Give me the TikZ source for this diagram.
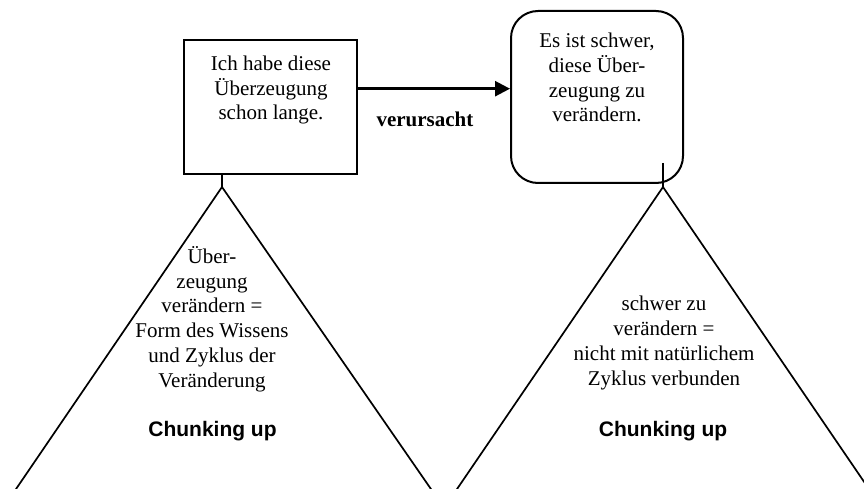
\documentclass[tikz,border=0pt]{standalone}
\usepackage{fontspec}
\setmainfont{Liberation Serif}
\newfontfamily\arialfont{Liberation Sans}
\usetikzlibrary{arrows.meta,calc}
\tikzset{
  ln/.style={line width=1.7pt, black},
  boxln/.style={line width=2pt, black},
  arrln/.style={line width=2.6pt, black, -{Triangle[length=15pt,width=15pt]}},
  boxtext/.style={font=\fontsize{21}{24.7}\selectfont, align=center, inner sep=0pt, anchor=base},
  chunk/.style={font=\arialfont\bfseries\fontsize{21}{24.7}\selectfont, inner sep=0pt, anchor=base},
}
\begin{document}
\begin{tikzpicture}[x=1pt,y=-1pt]
\useasboundingbox (0,0) rectangle (864,489);
% left box
\node[boxln, draw, rectangle, minimum width=173pt, minimum height=134pt, inner sep=0pt] (lbox) at (270.5,107) {};
\node[boxtext] (ltext) at (271,120) {Ich habe diese\\Überzeugung\\schon lange.};
% right rounded box
\node[boxln, draw, rectangle, rounded corners=27pt, minimum width=172pt, minimum height=172pt, inner sep=0pt] (rbox) at (597,97) {};
\node[boxtext] (rtext) at (597,122) {Es ist schwer,\\diese Über-\\zeugung zu\\verändern.};
% arrow
\draw[arrln] ([yshift=18.3pt]lbox.east) -- ([yshift=8.3pt]rbox.west);
\node[font=\bfseries\fontsize{21}{24.7}\selectfont, inner sep=0pt, anchor=base] (cause) at (425,127) {verursacht};
% left triangle
\coordinate (lapex) at (222,187);
\coordinate (ltick) at (222,174);
\coordinate (lbl) at (14,492);
\coordinate (lbr) at (433,492);
\draw[ln] (ltick) -- (lapex);
\draw[ln, line join=miter] (lbl) -- (lapex) -- (lbr);
\node[boxtext] (ltri) at (212,387) {Über-\\zeugung\\verändern =\\Form des Wissens\\und Zyklus der\\Veränderung};
\node[chunk] (lchunk) at (212.5,436.5) {Chunking up};
% right triangle
\coordinate (rapex) at (663,187);
\coordinate (rtick) at (663,163);
\coordinate (rbl) at (455,492);
\coordinate (rbr) at (871,492);
\draw[ln] (rtick) -- (rapex);
\draw[ln, line join=miter] (rbl) -- (rapex) -- (rbr);
\node[boxtext] (rtri) at (664,385) {schwer zu\\verändern =\\nicht mit natürlichem\\Zyklus verbunden};
\node[chunk] (rchunk) at (663,436) {Chunking up};
\end{tikzpicture}
\end{document}
